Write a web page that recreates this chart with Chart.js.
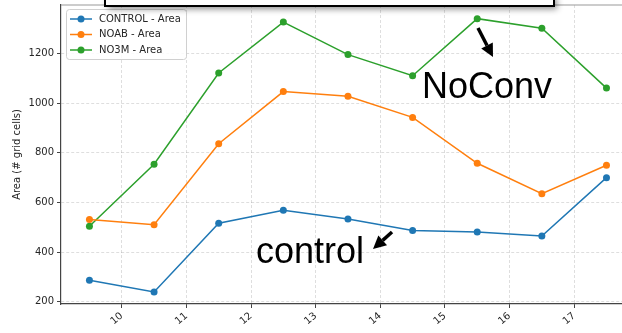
<!DOCTYPE html>
<html>
<head>
<meta charset="utf-8">
<script src="https://cdn.jsdelivr.net/npm/chart.js@4.4.1/dist/chart.umd.min.js"></script>
<style>
  html, body { margin: 0; padding: 0; background: #fff; }
  #wrap { width: 622px; height: 333px; }
</style>
</head>
<body>
<div id="wrap"><canvas id="areaChart"></canvas></div>
<script>
"use strict";

// data
var hours = [9.5, 10.5, 11.5, 12.5, 13.5, 14.5, 15.5, 16.5, 17.5];
var controlArea = [286, 239, 516, 569, 533, 487, 481, 465, 700];
var noabArea = [531, 510, 837, 1047, 1028, 943, 758, 635, 750];
var no3mArea = [504, 754, 1122, 1327, 1196, 1111, 1341, 1302, 1061];

var seriesNames = ["CONTROL - Area", "NOAB - Area", "NO3M - Area"];
var xTicks = [10, 11, 12, 13, 14, 15, 16, 17];
var yTicks = [200, 400, 600, 800, 1000, 1200];

var colors = ["#1f77b4", "#ff7f0e", "#2ca02c"];
var textColor = "#262626";

function pts(values) {
  return values.map(function (v, i) { return { x: hours[i], y: v }; });
}

function makeSet(i, values) {
  return {
    label: seriesNames[i],
    data: pts(values),
    borderColor: colors[i],
    backgroundColor: colors[i],
    borderWidth: 1.5,
    pointRadius: 3.5,
    pointBorderWidth: 0,
    pointHoverRadius: 3.5,
    tension: 0
  };
}

function noPad(scale) {
  scale.paddingLeft = 0;
  scale.paddingRight = 0;
  scale.paddingTop = 0;
  scale.paddingBottom = 0;
}

function arrow(ctx, x1, y1, x2, y2) {
  var ang = Math.atan2(y2 - y1, x2 - x1);
  var head = 13, half = 6.5;
  var bx = x2 - head * Math.cos(ang), by = y2 - head * Math.sin(ang);
  ctx.save();
  ctx.strokeStyle = "#000";
  ctx.fillStyle = "#000";
  ctx.lineWidth = 3.5;
  ctx.beginPath();
  ctx.moveTo(x1, y1);
  ctx.lineTo(bx, by);
  ctx.stroke();
  ctx.beginPath();
  ctx.moveTo(x2, y2);
  ctx.lineTo(bx + half * Math.sin(ang), by - half * Math.cos(ang));
  ctx.lineTo(bx - half * Math.sin(ang), by + half * Math.cos(ang));
  ctx.closePath();
  ctx.fill();
  ctx.restore();
}

// legend inside the axes + the pasted annotations
var overlay = {
  id: "overlay",
  afterDraw: function (chart) {
    var ctx = chart.ctx;
    var area = chart.chartArea;

    // top spine
    ctx.save();
    ctx.strokeStyle = "#9a9a9a";
    ctx.lineWidth = 1.2;
    ctx.beginPath();
    ctx.moveTo(area.left, area.top);
    ctx.lineTo(area.right, area.top);
    ctx.stroke();
    ctx.restore();

    // legend
    ctx.save();
    ctx.fillStyle = "rgba(255,255,255,0.85)";
    ctx.strokeStyle = "#d0d0d0";
    ctx.lineWidth = 1;
    ctx.beginPath();
    ctx.roundRect(66.5, 9.5, 120, 50, 3);
    ctx.fill();
    ctx.stroke();
    ctx.font = "10px 'DejaVu Sans'";
    ctx.textBaseline = "middle";
    chart.data.datasets.forEach(function (ds, i) {
      var y = 19 + i * 15.5;
      ctx.strokeStyle = ds.borderColor;
      ctx.lineWidth = 1.5;
      ctx.beginPath();
      ctx.moveTo(70, y);
      ctx.lineTo(92, y);
      ctx.stroke();
      ctx.fillStyle = ds.borderColor;
      ctx.beginPath();
      ctx.arc(81, y, 3.5, 0, Math.PI * 2);
      ctx.fill();
      ctx.fillStyle = textColor;
      ctx.fillText(ds.label, 99, y);
    });
    ctx.restore();

    // white box pasted over the top, soft shadow
    ctx.save();
    ctx.shadowColor = "rgba(0,0,0,0.45)";
    ctx.shadowBlur = 6;
    ctx.shadowOffsetX = 3;
    ctx.shadowOffsetY = 3;
    ctx.fillStyle = "#fff";
    ctx.fillRect(105, -5, 449, 11);
    ctx.restore();
    ctx.save();
    ctx.strokeStyle = "#000";
    ctx.lineWidth = 2;
    ctx.strokeRect(105, -5, 449, 11);
    ctx.restore();

    // text labels
    ctx.save();
    ctx.fillStyle = "#000";
    ctx.font = "36px 'Liberation Sans'";
    ctx.textBaseline = "alphabetic";
    ctx.fillText("NoConv", 422, 97.5);
    ctx.fillText("control", 256, 262.5);
    ctx.restore();

    arrow(ctx, 478, 28, 493, 57);
    arrow(ctx, 392, 232, 373, 249);
  }
};

var ctx = document.getElementById("areaChart").getContext("2d");
var myChart = new Chart(ctx, {
  type: "line",
  data: {
    datasets: [
      makeSet(0, controlArea),
      makeSet(1, noabArea),
      makeSet(2, no3mArea)
    ]
  },
  options: {
    responsive: true,
    maintainAspectRatio: false,
    animation: false,
    events: [],
    layout: { autoPadding: false, padding: { top: 5, right: 0, left: 0, bottom: 0 } },
    plugins: {
      legend: { display: false },
      tooltip: { enabled: false }
    },
    scales: {
      x: {
        type: "linear",
        min: 9.06,
        max: 17.74,
        afterBuildTicks: function (scale) {
          scale.ticks = xTicks.map(function (v) { return { value: v }; });
        },
        afterFit: function (scale) {
          scale.height = 29;
          noPad(scale);
        },
        grid: {
          color: "rgba(0,0,0,0.13)",
          tickColor: "#444",
          tickLength: 4,
          tickWidth: 1,
          tickBorderDash: []
        },
        border: { display: true, color: "#444", width: 1.2, dash: [3, 2] },
        ticks: {
          color: textColor,
          font: { family: "DejaVu Sans", size: 10 },
          minRotation: 40,
          maxRotation: 40,
          padding: 2,
          callback: function (v) { return String(v); }
        }
      },
      y: {
        min: 190.7,
        max: 1396,
        afterBuildTicks: function (scale) {
          scale.ticks = yTicks.map(function (v) { return { value: v }; });
        },
        afterFit: function (scale) {
          scale.width = 61;
          noPad(scale);
        },
        grid: {
          color: "rgba(0,0,0,0.13)",
          tickColor: "#444",
          tickLength: 4,
          tickWidth: 1,
          tickBorderDash: []
        },
        border: { display: true, color: "#444", width: 1.2, dash: [3, 2] },
        title: {
          display: true,
          text: "Area (# grid cells)",
          color: textColor,
          font: { family: "DejaVu Sans", size: 10 },
          padding: { top: 11, bottom: 0 }
        },
        ticks: {
          color: textColor,
          font: { family: "DejaVu Sans", size: 10 },
          padding: 3,
          callback: function (v) { return String(v); }
        }
      }
    }
  },
  plugins: [overlay]
});
</script>
</body>
</html>
